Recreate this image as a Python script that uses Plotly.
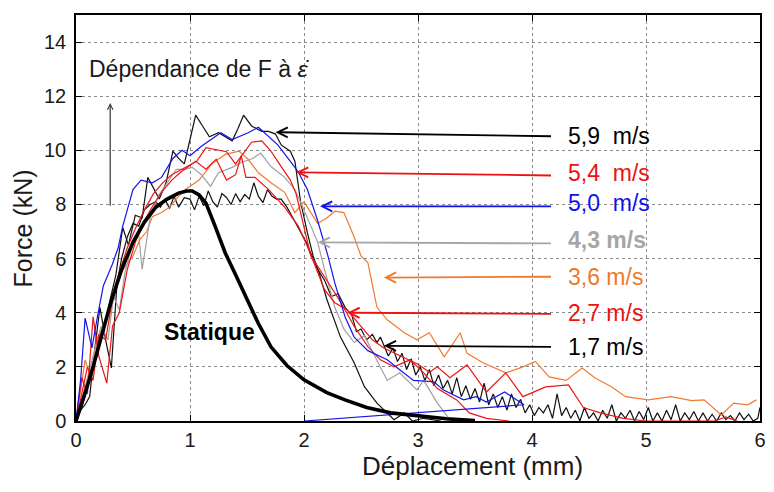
import plotly.graph_objects as go

# ---------------- data ----------------
static_x = [0, 0.05, 0.1, 0.15, 0.2, 0.25, 0.3, 0.4, 0.5, 0.6, 0.7, 0.8, 0.9, 0.97, 1.02, 1.08,
            1.14, 1.22, 1.31, 1.4, 1.49, 1.6, 1.71, 1.85, 2.0, 2.2, 2.36, 2.55, 2.76, 3.0, 3.25, 3.5]
static_y = [0, 0.6, 1.3, 2.0, 2.8, 3.6, 4.3, 5.6, 6.6, 7.35, 7.9, 8.2, 8.42, 8.5, 8.5, 8.35,
            8.05, 7.2, 6.2, 5.4, 4.6, 3.6, 2.74, 2.05, 1.52, 1.05, 0.78, 0.5, 0.3, 0.18, 0.08, 0.02]

v59_x = [0, 0.05, 0.1, 0.15, 0.2, 0.26, 0.3, 0.35, 0.41, 0.46, 0.52, 0.58, 0.63, 0.68, 0.73, 0.79,
         0.85, 0.9, 0.95, 1.0, 1.05, 1.11, 1.17, 1.25, 1.31, 1.37, 1.42, 1.47, 1.54, 1.63, 1.69,
         1.75, 1.8, 1.88, 1.92, 1.97, 2.03, 2.08, 2.13, 2.2, 2.32, 2.44, 2.53, 2.64, 2.79, 2.88,
         2.95, 3.05, 3.2]
v59_y = [0, 0.5, 1.2, 2.0, 3.0, 3.6, 4.5, 5.4, 7.15, 6.5, 7.6, 7.5, 9.0, 8.6, 8.2, 8.8,
         9.97, 9.7, 9.5, 10.4, 11.3, 10.9, 10.5, 10.65, 10.5, 10.35, 10.8, 11.3, 10.9, 10.7, 10.7,
         10.6, 10.2, 9.97, 9.6, 8.1, 6.95, 6.1, 5.5, 4.5, 3.1, 2.15, 1.27, 0.66, 0.05, 0.3,
         0.0, 0.1, 0.0]

v54_x = [0, 0.05, 0.1, 0.15, 0.2, 0.26, 0.32, 0.38, 0.45, 0.52, 0.6, 0.68, 0.76, 0.84, 0.93,
         1.0, 1.06, 1.14, 1.25, 1.32, 1.4, 1.47, 1.54, 1.63, 1.71, 1.8, 1.88, 1.93, 2.0, 2.06,
         2.2, 2.32, 2.44, 2.56, 2.67, 2.79, 2.93, 3.05, 3.17, 3.34, 3.45, 3.6, 3.8]
v54_y = [0, 1.0, 2.0, 1.5, 3.2, 3.0, 4.5, 5.5, 6.4, 7.1, 7.8, 8.4, 8.8, 9.1, 9.3,
         9.45, 9.6, 10.1, 10.0, 9.95, 9.5, 9.9, 10.3, 10.35, 9.97, 9.4, 8.9, 8.4, 7.2, 6.1,
         5.2, 4.4, 3.5, 2.75, 2.26, 2.0, 2.26, 1.78, 1.2, 0.78, 0.3, 0.1, 0.0]

v50_x = [0, 0.04, 0.08, 0.14, 0.19, 0.24, 0.32, 0.37, 0.41, 0.5, 0.57, 0.67, 0.75, 0.85, 0.93,
         1.0, 1.1, 1.27, 1.37, 1.51, 1.6, 1.69, 1.77, 1.86, 1.95, 2.03, 2.12, 2.21, 2.27, 2.36,
         2.44, 2.56, 2.73, 2.82, 2.96, 3.14, 3.22, 3.4, 3.51, 3.6, 3.76, 3.93, 2.0]
v50_y = [0, 1.5, 3.8, 2.7, 3.9, 5.0, 5.8, 6.4, 7.2, 8.55, 8.9, 8.8, 9.0, 9.7, 10.0,
         9.8, 10.15, 10.65, 10.4, 10.65, 10.85, 10.5, 10.2, 9.7, 9.2, 8.55, 7.4, 6.1, 5.1, 3.85,
         3.1, 2.6, 2.26, 1.96, 1.5, 1.45, 1.15, 0.78, 0.9, 0.7, 1.07, 0.6, 0.0]

v43_x = [0, 0.05, 0.1, 0.16, 0.22, 0.28, 0.33, 0.38, 0.43, 0.5, 0.55, 0.58, 0.65, 0.72, 0.8,
         0.88, 0.95, 1.02, 1.1, 1.18, 1.25, 1.37, 1.45, 1.55, 1.62, 1.71, 1.83, 1.92, 2.0, 2.06,
         2.12, 2.18, 2.27, 2.35, 2.44, 2.53, 2.64, 2.73, 2.84, 2.99, 3.05, 3.17, 3.28, 3.45]
v43_y = [0, 0.8, 1.5, 2.5, 3.5, 3.0, 4.6, 4.1, 5.5, 6.6, 6.9, 5.6, 7.5, 8.3, 8.8,
         9.3, 9.3, 9.37, 9.1, 8.67, 9.17, 9.37, 9.55, 9.7, 9.9, 9.4, 9.0, 8.55, 7.8, 7.2,
         6.6, 5.6, 4.2, 3.4, 2.9, 3.15, 2.26, 1.5, 1.78, 1.15, 1.5, 0.66, 0.05, 0.0]

v36_x = [0, 0.04, 0.08, 0.13, 0.18, 0.24, 0.3, 0.36, 0.43, 0.5, 0.56, 0.62, 0.67, 0.75, 0.82,
         0.9, 0.96, 1.08, 1.19, 1.31, 1.43, 1.51, 1.6, 1.71, 1.83, 1.92, 2.0, 2.06, 2.12, 2.2,
         2.27, 2.35, 2.44, 2.5, 2.56, 2.64, 2.73, 2.88, 2.99, 3.1, 3.23, 3.37, 3.43, 3.57, 3.77,
         3.92, 4.03, 4.15, 4.3, 4.44, 4.55, 4.7, 4.82, 5.02, 5.22, 5.4, 5.51, 5.66, 5.77, 5.89, 5.97]
v36_y = [0, 1.2, 2.26, 1.6, 3.0, 3.5, 4.2, 5.2, 5.7, 6.1, 6.7, 7.0, 7.55, 7.7, 7.9,
         8.3, 8.55, 8.9, 9.5, 9.85, 9.97, 9.67, 9.17, 8.8, 8.45, 7.7, 8.1, 7.7, 7.3, 7.5,
         7.75, 7.7, 6.8, 6.1, 5.85, 4.2, 3.74, 3.26, 3.0, 3.26, 2.37, 3.26, 2.5, 2.15, 1.78,
         2.0, 2.2, 1.63, 1.5, 1.96, 1.6, 1.26, 0.9, 0.78, 0.9, 0.75, 0.78, 0.22, 0.66, 0.6, 0.78]

v27_x = [0, 0.05, 0.1, 0.15, 0.2, 0.27, 0.32, 0.38, 0.45, 0.52, 0.6, 0.68, 0.76, 0.84, 0.92,
         1.0, 1.05, 1.14, 1.23, 1.32, 1.4, 1.45, 1.49, 1.57, 1.69, 1.83, 1.95, 2.03, 2.18, 2.27,
         2.38, 2.5, 2.6, 2.7, 2.8, 2.9, 3.0, 3.1, 3.17, 3.28, 3.43, 3.6, 3.77, 3.92, 4.12, 4.32,
         4.45, 4.6, 4.8, 5.0, 5.6, 5.7, 5.8]
v27_y = [0, 1.6, 1.0, 3.85, 2.4, 1.4, 3.5, 4.0, 5.6, 6.6, 7.4, 8.0, 8.5, 8.9, 9.2,
         9.45, 9.6, 9.3, 9.67, 8.9, 9.1, 9.8, 9.0, 9.0, 8.55, 7.9, 7.2, 6.45, 4.85, 4.37,
         4.1, 3.5, 3.0, 2.7, 2.5, 2.3, 2.1, 1.8, 2.0, 1.6, 2.07, 1.07, 1.78, 0.9, 1.26, 1.33,
         0.5, 0.3, 0.1, 0.0, 0.0, 0.15, 0.0]

v17_x = [0, 0.04, 0.08, 0.12, 0.16, 0.21, 0.26, 0.31, 0.36, 0.4, 0.45, 0.5, 0.55, 0.6, 0.65,
         0.7, 0.74, 0.78, 0.82, 0.86, 0.9, 0.95, 1.0, 1.04, 1.08, 1.12, 1.16, 1.2, 1.24, 1.28,
         1.32, 1.36, 1.4, 1.44, 1.48, 1.52, 1.56, 1.6, 1.64, 1.68, 1.72, 1.76, 1.8, 1.85, 1.89,
         1.93, 1.97, 2.02, 2.06, 2.12, 2.18, 2.24, 2.3, 2.36, 2.42, 2.46, 2.5, 2.55, 2.6, 2.64,
         2.67,
         2.70, 2.74, 2.78, 2.82, 2.86, 2.90, 2.94, 2.98, 3.02, 3.06, 3.10, 3.14, 3.18, 3.22, 3.26,
         3.30, 3.34, 3.38, 3.42, 3.46, 3.50, 3.54, 3.58, 3.62, 3.66, 3.70, 3.74, 3.78, 3.82, 3.86,
         3.90, 3.94, 3.98, 4.02, 4.06, 4.10, 4.14, 4.18, 4.22, 4.26, 4.30, 4.34, 4.38, 4.42, 4.46,
         4.50, 4.54, 4.58, 4.62, 4.66, 4.70, 4.74, 4.78, 4.82, 4.86, 4.90, 4.94, 4.98, 5.02, 5.06,
         5.10, 5.14, 5.18, 5.22, 5.26, 5.30, 5.34, 5.38, 5.42, 5.46, 5.50, 5.54, 5.58, 5.62, 5.66,
         5.70, 5.74, 5.78, 5.82, 5.86, 5.90, 5.94, 5.98, 6.00]
v17_y = [0, 0.4, 0.6, 0.9, 2.5, 4.2, 3.0, 1.96, 5.1, 6.0, 6.8, 7.3, 7.2, 7.8, 8.0,
         8.1, 7.9, 8.2, 7.85, 8.3, 7.9, 8.25, 8.2, 7.8, 8.3, 7.95, 8.5, 8.1, 7.9, 8.4,
         8.26, 8.0, 8.4, 8.1, 8.37, 8.2, 8.8, 8.3, 8.07, 8.55, 8.3, 8.2, 8.2, 7.9, 7.6,
         7.3, 6.95, 6.6, 6.2, 5.6, 5.2, 4.6, 4.7, 4.2, 3.9, 3.3, 3.4, 3.0, 3.2, 2.9,
         3.1,
         2.8, 2.4, 2.7, 2.2, 2.5, 1.9, 2.3, 1.7, 2.0, 1.5, 1.9, 1.3, 1.7, 1.2, 1.5,
         1.0, 1.6, 0.9, 1.3, 0.8, 1.2, 0.7, 1.4, 0.6, 1.0, 0.5, 0.9, 0.4, 1.0, 0.5,
         0.8, 0.3, 0.6, 0.2, 0.5, 0.3, 0.6, 0.1, 1.0, 0.2, 0.5, 0.1, 0.4, 0.0, 0.5,
         0.1, 0.3, 0.0, 0.4, 0.1, 0.6, 0.0, 0.3, 0.1, 0.4, 0.0, 0.35, 0.05, 0.5, 0.0,
         0.3, 0.0, 0.4, 0.05, 0.6, 0.0, 0.3, 0.05, 0.35, 0.0, 0.3, 0.0, 0.25, 0.0, 0.3,
         0.05, 0.2, 0.0, 0.3, 0.05, 0.25, 0.0, 0.1, 0.5]

# label texts, colours, arrow tails / heads
labels = ["5,9  m/s", "5,4  m/s", "5,0  m/s", "4,3 m/s", "3,6 m/s", "2,7 m/s", "1,7 m/s"]
label_colors = ["#000000", "#ee1111", "#1010ee", "#a6a6a6", "#ee7a2a", "#ee1111", "#000000"]
label_bold = [False, False, False, True, False, False, False]
label_y = [10.52, 9.15, 8.04, 6.7, 5.33, 4.0, 2.74]
label_x = 4.3
arrow_tail_x = 4.18
arrow_tail_y = [10.52, 9.07, 7.93, 6.56, 5.33, 3.96, 2.74]
arrow_head_x = [1.75, 1.93, 2.14, 2.12, 2.7, 2.38, 2.7]
arrow_head_y = [10.67, 9.19, 7.93, 6.6, 5.3, 4.0, 2.78]

series = [
    (v59_x, v59_y, "#111111"),
    (v17_x, v17_y, "#111111"),
    (v36_x, v36_y, "#f07a30"),
    (v43_x, v43_y, "#a0a0a0"),
    (v27_x, v27_y, "#ee1515"),
    (v54_x, v54_y, "#ee1515"),
    (v50_x, v50_y, "#1515ee"),
]

FONT = "Liberation Sans, Arial, sans-serif"
PLOT_L, PLOT_R, PLOT_T, PLOT_B = 76, 766, 15, 421
W, H = 774, 492
pw, ph = PLOT_R - PLOT_L, PLOT_B - PLOT_T

fig = go.Figure()
for xs, ys, col in series:
    fig.add_trace(go.Scatter(x=xs, y=ys, mode="lines",
                             line=dict(color=col, width=1.2), showlegend=False,
                             hoverinfo="skip"))
fig.add_trace(go.Scatter(x=static_x, y=static_y, mode="lines",
                         line=dict(color="#000000", width=3.6), showlegend=False,
                         hoverinfo="skip"))

annotations = []
for i, txt in enumerate(labels):
    annotations.append(dict(x=arrow_head_x[i], y=arrow_head_y[i], ax=arrow_tail_x,
                            ay=arrow_tail_y[i], xref="x", yref="y", axref="x", ayref="y",
                            text="", showarrow=True, arrowhead=5, arrowsize=1.1,
                            arrowwidth=1.8, arrowcolor=label_colors[i]))
    t = "<b>%s</b>" % txt if label_bold[i] else txt
    annotations.append(dict(x=label_x, y=label_y[i], xref="x", yref="y", text=t,
                            showarrow=False, xanchor="left", yanchor="middle",
                            font=dict(family=FONT, size=23, color=label_colors[i])))

annotations += [
    dict(x=0.3, y=11.75, ax=0.3, ay=7.9, xref="x", yref="y", axref="x", ayref="y",
         text="", showarrow=True, arrowhead=5, arrowsize=0.9, arrowwidth=1.2,
         arrowcolor="#333333"),
    dict(x=0.1, y=13.0, xref="x", yref="y", text="Dépendance de F à <i>ε̇</i>",
         showarrow=False, xanchor="left", yanchor="middle",
         font=dict(family=FONT, size=23, color="#1a1a1a")),
    dict(x=1.17, y=3.3, xref="x", yref="y", text="<b>Statique</b>", showarrow=False,
         xanchor="center", yanchor="middle",
         font=dict(family=FONT, size=23, color="#000000")),
    dict(x=(476 - PLOT_L) / pw, y=(PLOT_B - 466) / ph, xref="paper", yref="paper",
         text="Déplacement (mm)", showarrow=False, xanchor="center", yanchor="middle",
         font=dict(family=FONT, size=26, color="#1a1a1a")),
    dict(x=(23 - PLOT_L) / pw, y=(PLOT_B - 228) / ph, xref="paper", yref="paper",
         text="Force (kN)", textangle=-90, showarrow=False, xanchor="center",
         yanchor="middle", font=dict(family=FONT, size=25, color="#1a1a1a")),
]

axis_common = dict(showline=True, linecolor="#000000", linewidth=1.5, mirror="ticks",
                   ticks="inside", ticklen=6, tickcolor="#000000", tickwidth=1,
                   showgrid=True, gridcolor="#8a8a8a", griddash="dot", gridwidth=1,
                   zeroline=False, tickfont=dict(family=FONT, size=20, color="#1a1a1a"))

fig.update_layout(
    width=W, height=H,
    margin=dict(l=PLOT_L, r=W - PLOT_R, t=PLOT_T, b=H - PLOT_B),
    paper_bgcolor="white", plot_bgcolor="white",
    xaxis=dict(range=[0, 6], tickvals=[0, 1, 2, 3, 4, 5, 6], ticklabelstandoff=0,
               **axis_common),
    yaxis=dict(range=[0, 15], tickvals=[0, 2, 4, 6, 8, 10, 12, 14], ticklabelstandoff=4,
               **axis_common),
    annotations=annotations,
)

fig.write_html("out.html", config={"displayModeBar": False},
               post_script="document.body.style.margin='0px';")
